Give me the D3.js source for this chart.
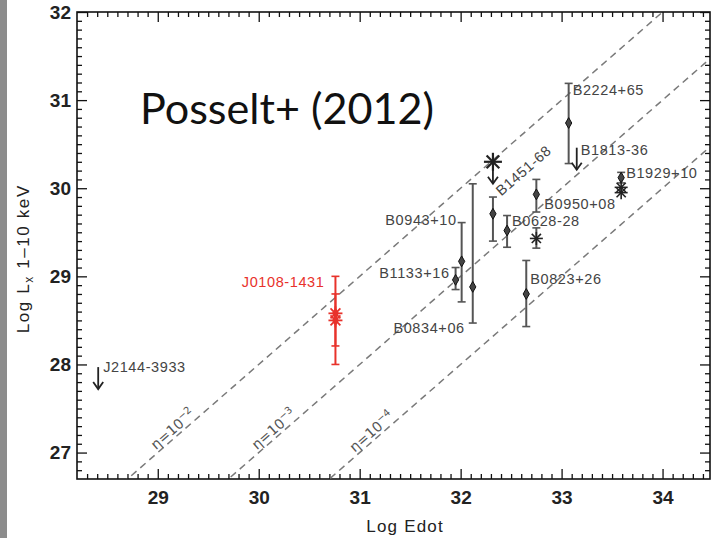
<!DOCTYPE html>
<html>
<head>
<meta charset="utf-8">
<script src="https://cdn.jsdelivr.net/npm/d3@7"></script>
<style>
  body { margin: 0; background: #fff; }
  svg { display: block; }
  .tick text { font-family: "Liberation Sans", Arial, sans-serif; }
</style>
</head>
<body>
<div id="chart"></div>
<script>
// pulsars with a diamond + error bar
const names = ["B2224+65", "B0943+10", "B1133+16", "B0834+06", "B1451-68", "B0628-28", "B0950+08", "B0823+26", "B1929+10"];
const edot  = [33.07, 32.01, 31.95, 32.12, 32.32, 32.46, 32.75, 32.65, 33.59];
const lx    = [30.74, 29.17, 28.96, 28.88, 29.71, 29.52, 29.93, 28.80, 30.12];
const lxLo  = [30.28, 28.71, 28.85, 28.47, 29.40, 29.33, 29.73, 28.43, 30.06];
const lxHi  = [31.19, 29.61, 29.10, 30.05, 29.90, 29.69, 30.10, 29.18, 30.18];

// extra measurements drawn as asterisks
const starNames = ["B1451-68", "", "B1929+10", "B1929+10"];
const starEdot  = [32.32, 32.75, 33.59, 33.59];
const starLx    = [30.30, 29.43, 30.01, 29.95];
const starLo    = [null, 29.32, null, null];
const starHi    = [null, 29.55, null, null];

// upper limits
const limitNames = ["J2144-3933", "B1813-36", "B1451-68"];
const limitEdot  = [28.41, 33.15, 32.32];
const limitLx    = [27.97, 30.46, 30.30];

// the new pulsar (red)
const targetName = "J0108-1431";
const targetEdot = 30.76;
const targetLx   = [28.58, 28.50];
const targetLo   = [28.21, 28.00];
const targetHi   = [28.80, 29.00];

// efficiency lines  Lx = eta * Edot
const etaExp = [-2, -3, -4];

const xTicks = [29, 30, 31, 32, 33, 34];
const yTicks = [27, 28, 29, 30, 31, 32];

const W = 712, H = 538;
const m = {left: 77, right: 710, top: 12, bottom: 479};

const svg = d3.select("#chart").append("svg")
    .attr("width", W).attr("height", H);

svg.append("rect").attr("x", 0).attr("y", 0).attr("width", 7).attr("height", H).attr("fill", "#8c8c8c");

const x = d3.scaleLinear().domain([28.2, 34.47]).range([m.left, m.right]);
const y = d3.scaleLinear().domain([26.7, 32]).range([m.bottom, m.top]);

svg.append("defs").append("clipPath").attr("id", "plot")
    .append("rect").attr("x", m.left).attr("y", m.top)
    .attr("width", m.right - m.left).attr("height", m.bottom - m.top);

const minorX = d3.range(28.3, 34.47, 0.1).filter(v => Math.abs(v - Math.round(v)) > 0.01);
const minorY = d3.range(26.8, 32, 0.1).filter(v => Math.abs(v - Math.round(v)) > 0.01);

function styleAxis(g) {
    g.select(".domain").remove();
    g.selectAll("line").attr("stroke", "#111").attr("stroke-width", 1.3);
    g.selectAll("text").attr("fill", "#222").attr("font-size", 19).attr("font-weight", "bold");
}

// bottom
svg.append("g").attr("transform", `translate(0,${m.bottom})`)
    .call(d3.axisBottom(x).tickValues(xTicks).tickFormat(d3.format("d")).tickSize(-10).tickPadding(12))
    .call(styleAxis);
svg.append("g").attr("transform", `translate(0,${m.bottom})`)
    .call(d3.axisBottom(x).tickValues(minorX).tickFormat("").tickSize(-5))
    .call(styleAxis);
// top
svg.append("g").attr("transform", `translate(0,${m.top})`)
    .call(d3.axisTop(x).tickValues(xTicks).tickFormat("").tickSize(-10))
    .call(styleAxis);
svg.append("g").attr("transform", `translate(0,${m.top})`)
    .call(d3.axisTop(x).tickValues(minorX).tickFormat("").tickSize(-5))
    .call(styleAxis);
// left
svg.append("g").attr("transform", `translate(${m.left},0)`)
    .call(d3.axisLeft(y).tickValues(yTicks).tickFormat(d3.format("d")).tickSize(-10).tickPadding(6))
    .call(styleAxis);
svg.append("g").attr("transform", `translate(${m.left},0)`)
    .call(d3.axisLeft(y).tickValues(minorY).tickFormat("").tickSize(-5))
    .call(styleAxis);
// right
svg.append("g").attr("transform", `translate(${m.right},0)`)
    .call(d3.axisRight(y).tickValues(yTicks).tickFormat("").tickSize(-10))
    .call(styleAxis);
svg.append("g").attr("transform", `translate(${m.right},0)`)
    .call(d3.axisRight(y).tickValues(minorY).tickFormat("").tickSize(-5))
    .call(styleAxis);

svg.append("rect")
    .attr("x", m.left).attr("y", m.top)
    .attr("width", m.right - m.left).attr("height", m.bottom - m.top)
    .attr("fill", "none").attr("stroke", "#111").attr("stroke-width", 1.6);

// axis titles
svg.append("text")
    .attr("x", x(31.45)).attr("y", 532)
    .attr("text-anchor", "middle")
    .attr("font-family", "Liberation Sans, Arial, sans-serif")
    .attr("font-size", 17).attr("letter-spacing", 1.2).attr("fill", "#222")
    .text("Log Edot");

const yTitle = svg.append("text")
    .attr("transform", `translate(29,${y(29.2)}) rotate(-90)`)
    .attr("text-anchor", "middle")
    .attr("font-family", "Liberation Sans, Arial, sans-serif")
    .attr("font-size", 17).attr("letter-spacing", 1.6).attr("fill", "#222");
yTitle.append("tspan").text("Log L");
yTitle.append("tspan").attr("font-size", 12).attr("dy", 4).text("x");
yTitle.append("tspan").attr("dy", -4).text(" 1\u201310 keV");

// title
svg.append("text")
    .attr("x", 140).attr("y", 124)
    .attr("font-family", "Lato, 'Open Sans', sans-serif")
    .attr("font-size", 43).attr("fill", "#111")
    .attr("textLength", 294).attr("lengthAdjust", "spacingAndGlyphs")
    .text("Posselt+ (2012)");

// eta lines
const plot = svg.append("g").attr("clip-path", "url(#plot)");
const eRange = x.domain();
plot.selectAll(".eta").data(etaExp).enter().append("line")
    .attr("x1", x(eRange[0])).attr("y1", d => y(eRange[0] + d))
    .attr("x2", x(eRange[1])).attr("y2", d => y(eRange[1] + d))
    .attr("stroke", "#7a7a7a").attr("stroke-width", 1.5)
    .attr("stroke-dasharray", "7,5");

const angle = -Math.atan((y(27) - y(28)) / (x(29) - x(28))) * 180 / Math.PI;
const etaLabelAt = [29.2, 30.2, 31.17];
etaExp.forEach((k, i) => {
    const e = etaLabelAt[i];
    const t = svg.append("text")
        .attr("transform", `translate(${x(e)},${y(e + k)}) rotate(${angle})`)
        .attr("text-anchor", "middle").attr("dy", -3)
        .attr("font-family", "DejaVu Sans, sans-serif")
        .attr("font-size", 14).attr("fill", "#555");
    t.append("tspan").text("\u03b7=10");
    t.append("tspan").attr("font-size", 10).attr("dy", -6).text("\u2212" + Math.abs(k));
});

const labelFont = "Liberation Sans, Arial, sans-serif";
function label(px, py, txt, anchor, color, rot) {
    const t = svg.append("text")
        .attr("font-family", labelFont).attr("font-size", 14.5)
        .attr("letter-spacing", 0.6)
        .attr("fill", color || "#444")
        .attr("text-anchor", anchor || "start")
        .attr("dy", "0.35em")
        .text(txt);
    if (rot) t.attr("transform", `translate(${px},${py}) rotate(${rot})`);
    else t.attr("x", px).attr("y", py);
}

// error bars
function errBar(g, ex, lo, hi, color, cap) {
    g.append("line").attr("x1", x(ex)).attr("x2", x(ex)).attr("y1", y(lo)).attr("y2", y(hi))
        .attr("stroke", color).attr("stroke-width", 2);
    [lo, hi].forEach(v => g.append("line")
        .attr("x1", x(ex) - cap).attr("x2", x(ex) + cap).attr("y1", y(v)).attr("y2", y(v))
        .attr("stroke", color).attr("stroke-width", 1.6));
}

function asterisk(g, cx, cy, r, color, w) {
    for (let a = 0; a < 4; a++) {
        const th = a * Math.PI / 4;
        g.append("line")
            .attr("x1", cx - r * Math.cos(th)).attr("y1", cy - r * Math.sin(th))
            .attr("x2", cx + r * Math.cos(th)).attr("y2", cy + r * Math.sin(th))
            .attr("stroke", color).attr("stroke-width", w);
    }
}

const marks = svg.append("g");
names.forEach((n, i) => errBar(marks, edot[i], lxLo[i], lxHi[i], "#555", 4));

marks.selectAll(".dia").data(names).enter().append("path")
    .attr("d", d3.symbol(d3.symbolDiamond, 34))
    .attr("transform", (d, i) => `translate(${x(edot[i])},${y(lx[i])})`)
    .attr("fill", "#444").attr("stroke", "#111").attr("stroke-width", 1);

starEdot.forEach((e, i) => {
    if (starLo[i] != null) errBar(marks, e, starLo[i], starHi[i], "#555", 4);
    const big = starNames[i] === "B1451-68";
    asterisk(marks, x(e), y(starLx[i]), big ? 9 : 6.5, "#222", big ? 2.2 : 1.6);
});

// upper limit arrows
limitEdot.forEach((e, i) => {
    const px = x(e), py = y(limitLx[i]), len = 22;
    marks.append("line").attr("x1", px).attr("x2", px).attr("y1", py).attr("y2", py + len)
        .attr("stroke", "#222").attr("stroke-width", 1.8);
    marks.append("path")
        .attr("d", `M${px - 5},${py + len - 7} L${px},${py + len} L${px + 5},${py + len - 7}`)
        .attr("fill", "none").attr("stroke", "#222").attr("stroke-width", 1.8);
});

// target (red)
const red = "#e8322b";
targetLx.forEach((v, i) => errBar(marks, targetEdot, targetLo[i], targetHi[i], red, 4));
targetLx.forEach(v => {
    asterisk(marks, x(targetEdot), y(v), 7, red, 1.8);
    marks.append("path").attr("d", d3.symbol(d3.symbolDiamond, 40))
        .attr("transform", `translate(${x(targetEdot)},${y(v)})`).attr("fill", red);
});

// labels
const lab = {
    "B2224+65": [4, -33, "start"],
    "B0943+10": [-5, -41, "end"],
    "B1133+16": [-6, -7, "end"],
    "B0834+06": [-8, 41, "end"],
    "B0628-28": [5, -10, "start"],
    "B0950+08": [8, 10, "start"],
    "B0823+26": [4, -15, "start"],
    "B1929+10": [5, -5, "start"]
};
names.forEach((n, i) => {
    const o = lab[n];
    if (!o) return;
    label(x(edot[i]) + o[0], y(lx[i]) + o[1], n, o[2]);
});
label(x(limitEdot[0]) + 5, y(limitLx[0]), limitNames[0], "start");
label(x(limitEdot[1]) + 4, y(limitLx[1]) + 2, limitNames[1], "start");
label(x(starEdot[0]) + 5, y(starLx[0]) + 31, "B1451-68", "start", null, angle);
label(x(targetEdot) - 11, y(targetLx[0]) - 31, targetName, "end", red);
</script>
</body>
</html>
